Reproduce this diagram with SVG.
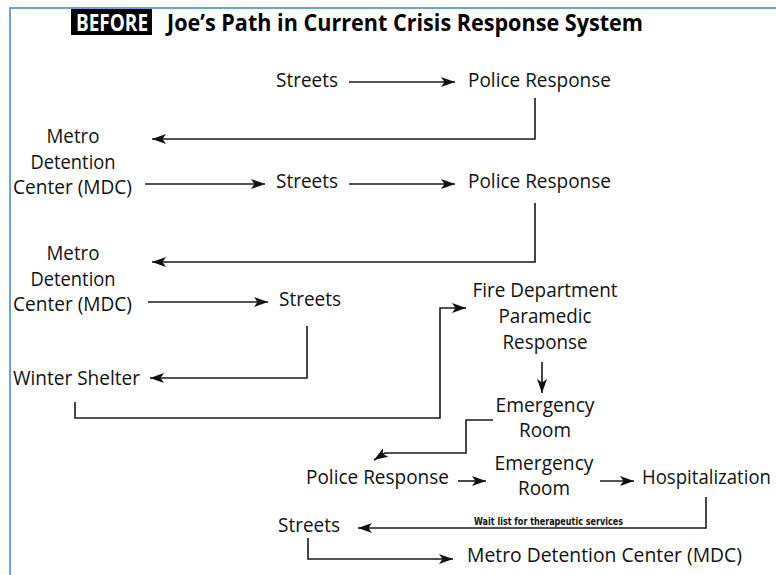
<svg xmlns="http://www.w3.org/2000/svg" width="776" height="575" viewBox="0 0 776 575">
<style>
.t{font-family:"Open Sans","Liberation Sans",sans-serif;font-size:19.5px;fill:#111}
.m{text-anchor:middle}
.c{fill:none;stroke:#1a1a1a;stroke-width:1.6}
.h{font-family:"Open Sans","Liberation Sans",sans-serif;font-size:23px;font-weight:bold}
</style>
<defs>
<marker id="a" markerUnits="userSpaceOnUse" markerWidth="15" markerHeight="11" refX="14" refY="5.5" orient="auto">
<path d="M0,0.5 L14,5.5 L0,10.5 L3.5,5.5 z" fill="#111"/>
</marker>
</defs>
<rect width="776" height="575" fill="#fff"/>
<g id="frame" fill="none" stroke="#6aa3dd" stroke-width="2">
<path d="M10,575 V8 H776"/>
</g>
<g id="title">
<rect x="71" y="9" width="81" height="26" fill="#000"/>
<text class="h" x="76" y="31" fill="#fff" textLength="72" lengthAdjust="spacingAndGlyphs">BEFORE</text>
<text class="h" x="167" y="31" fill="#000" textLength="476" lengthAdjust="spacingAndGlyphs">Joe’s Path in Current Crisis Response System</text>
</g>
<g id="connectors">
<path class="c" d="M349,82 H455" marker-end="url(#a)"/>
<path class="c" d="M535,98 V139 H152" marker-end="url(#a)"/>
<path class="c" d="M145,184 H265" marker-end="url(#a)"/>
<path class="c" d="M349,184 H455" marker-end="url(#a)"/>
<path class="c" d="M535,203 V262 H152" marker-end="url(#a)"/>
<path class="c" d="M148,302 H268" marker-end="url(#a)"/>
<path class="c" d="M307,326 V378 H150" marker-end="url(#a)"/>
<path class="c" d="M75,402 V418 H440 V308 H466" marker-end="url(#a)"/>
<path class="c" d="M542,362 V393" marker-end="url(#a)"/>
<path class="c" d="M493,420 H466 V453 H385 L374,460" marker-end="url(#a)"/>
<path class="c" d="M458,481 H486" marker-end="url(#a)"/>
<path class="c" d="M600,481 H634" marker-end="url(#a)"/>
<path class="c" d="M706,497 V528 H358" marker-end="url(#a)"/>
<path class="c" d="M308,538 V559 H453" marker-end="url(#a)"/>
<text x="474" y="525" font-family="'DejaVu Sans Condensed','Liberation Sans',sans-serif" font-size="10.5" font-weight="bold" fill="#111" textLength="149" lengthAdjust="spacingAndGlyphs">Wait list for therapeutic services</text>
</g>
<g id="streets1"><text class="t" x="276" y="87" textLength="62" lengthAdjust="spacingAndGlyphs">Streets</text></g>
<g id="police1"><text class="t" x="468" y="87" textLength="143" lengthAdjust="spacingAndGlyphs">Police Response</text></g>
<g id="mdc1">
<text class="t m" x="73" y="143" textLength="53" lengthAdjust="spacingAndGlyphs">Metro</text>
<text class="t m" x="73" y="169" textLength="85" lengthAdjust="spacingAndGlyphs">Detention</text>
<text class="t" x="13" y="194" textLength="119" lengthAdjust="spacingAndGlyphs">Center (MDC)</text>
</g>
<g id="streets2"><text class="t" x="276" y="188" textLength="62" lengthAdjust="spacingAndGlyphs">Streets</text></g>
<g id="police2"><text class="t" x="468" y="188" textLength="143" lengthAdjust="spacingAndGlyphs">Police Response</text></g>
<g id="mdc2">
<text class="t m" x="73" y="260" textLength="53" lengthAdjust="spacingAndGlyphs">Metro</text>
<text class="t m" x="73" y="286" textLength="85" lengthAdjust="spacingAndGlyphs">Detention</text>
<text class="t" x="13" y="311" textLength="119" lengthAdjust="spacingAndGlyphs">Center (MDC)</text>
</g>
<g id="streets3"><text class="t" x="279" y="306" textLength="62" lengthAdjust="spacingAndGlyphs">Streets</text></g>
<g id="shelter"><text class="t" x="13" y="385" textLength="127" lengthAdjust="spacingAndGlyphs">Winter Shelter</text></g>
<g id="fire">
<text class="t m" x="545" y="297" textLength="145" lengthAdjust="spacingAndGlyphs">Fire Department</text>
<text class="t m" x="545" y="323" textLength="93" lengthAdjust="spacingAndGlyphs">Paramedic</text>
<text class="t m" x="545" y="349" textLength="85" lengthAdjust="spacingAndGlyphs">Response</text>
</g>
<g id="er1">
<text class="t m" x="545" y="412" textLength="99" lengthAdjust="spacingAndGlyphs">Emergency</text>
<text class="t m" x="545" y="437" textLength="52" lengthAdjust="spacingAndGlyphs">Room</text>
</g>
<g id="police3"><text class="t" x="306" y="484" textLength="143" lengthAdjust="spacingAndGlyphs">Police Response</text></g>
<g id="er2">
<text class="t m" x="544" y="470" textLength="99" lengthAdjust="spacingAndGlyphs">Emergency</text>
<text class="t m" x="544" y="495" textLength="52" lengthAdjust="spacingAndGlyphs">Room</text>
</g>
<g id="hosp"><text class="t" x="642" y="484" textLength="129" lengthAdjust="spacingAndGlyphs">Hospitalization</text></g>
<g id="streets4"><text class="t" x="278" y="532" textLength="62" lengthAdjust="spacingAndGlyphs">Streets</text></g>
<g id="mdc3"><text class="t" x="467" y="562" textLength="275" lengthAdjust="spacingAndGlyphs">Metro Detention Center (MDC)</text></g>
</svg>
